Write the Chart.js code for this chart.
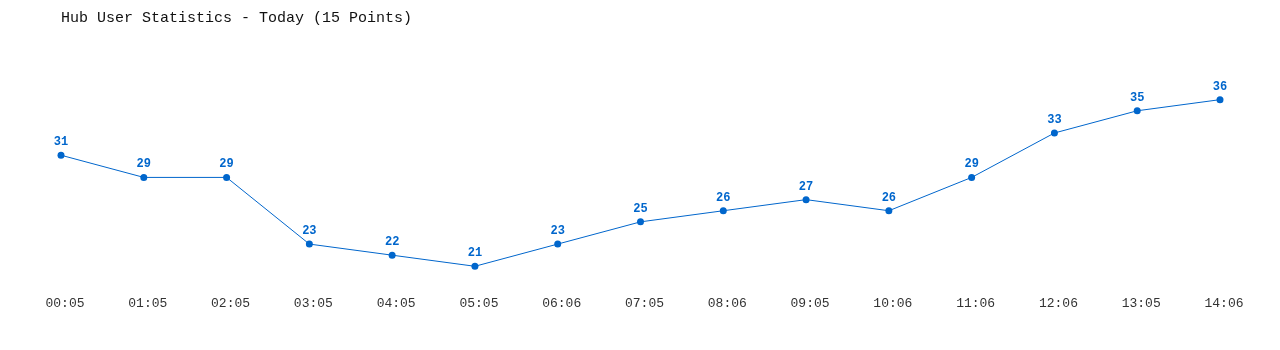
<!DOCTYPE html>
<html><head><meta charset="utf-8">
<script src="https://cdn.jsdelivr.net/npm/chart.js@4.4.0/dist/chart.umd.min.js"></script>
<style>html,body{margin:0;padding:0;background:#fff;}#wrap{width:1280px;height:350px;}</style>
</head><body><div id="wrap"><canvas id="c" width="1280" height="350"></canvas></div>
<script>
const titleText = "Hub User Statistics - Today (15 Points)";
const categories = ["00:05","01:05","02:05","03:05","04:05","05:05","06:06","07:05","08:06","09:05","10:06","11:06","12:06","13:05","14:06"];
const users = [31,29,29,23,22,21,23,25,26,27,26,29,33,35,36];
const yMin = 19.37, yMax = 39.75;
const blue = "#0066cc";
const mono = "'Liberation Mono','DejaVu Sans Mono',monospace";

const labelPlugin = {
  id: "vlabels",
  afterDatasetsDraw(chart) {
    const ctx = chart.ctx;
    const meta = chart.getDatasetMeta(0);
    ctx.save();
    ctx.fillStyle = blue;
    ctx.font = "bold 12px " + mono;
    ctx.textAlign = "center";
    ctx.textBaseline = "middle";
    meta.data.forEach((pt, i) => {
      ctx.fillText(String(users[i]), pt.x, pt.y - 13);
    });
    ctx.restore();
  }
};

new Chart(document.getElementById("c"), {
  type: "line",
  data: {
    labels: categories,
    datasets: [{
      data: users,
      borderColor: blue,
      backgroundColor: blue,
      borderWidth: 1,
      pointRadius: 3.5,
      pointBackgroundColor: blue,
      pointBorderWidth: 0,
      tension: 0,
      fill: false
    }]
  },
  options: {
    responsive: false,
    animation: false,
    layout: { padding: { left: 61, right: 60, top: 0, bottom: 28 } },
    plugins: {
      legend: { display: false },
      tooltip: { enabled: false },
      title: {
        display: true, text: titleText, align: "start", color: "#111",
        font: { family: mono, size: 15, weight: "normal" },
        padding: { top: 9, bottom: 31 }
      }
    },
    scales: {
      x: {
        offset: false,
        grid: { display: false, drawTicks: false },
        border: { display: false },
        ticks: { color: "#333", font: { family: mono, size: 13 }, padding: 11, labelOffset: 4, maxRotation: 0, autoSkip: false }
      },
      y: { display: false, min: yMin, max: yMax }
    }
  },
  plugins: [labelPlugin]
});
</script></body></html>
